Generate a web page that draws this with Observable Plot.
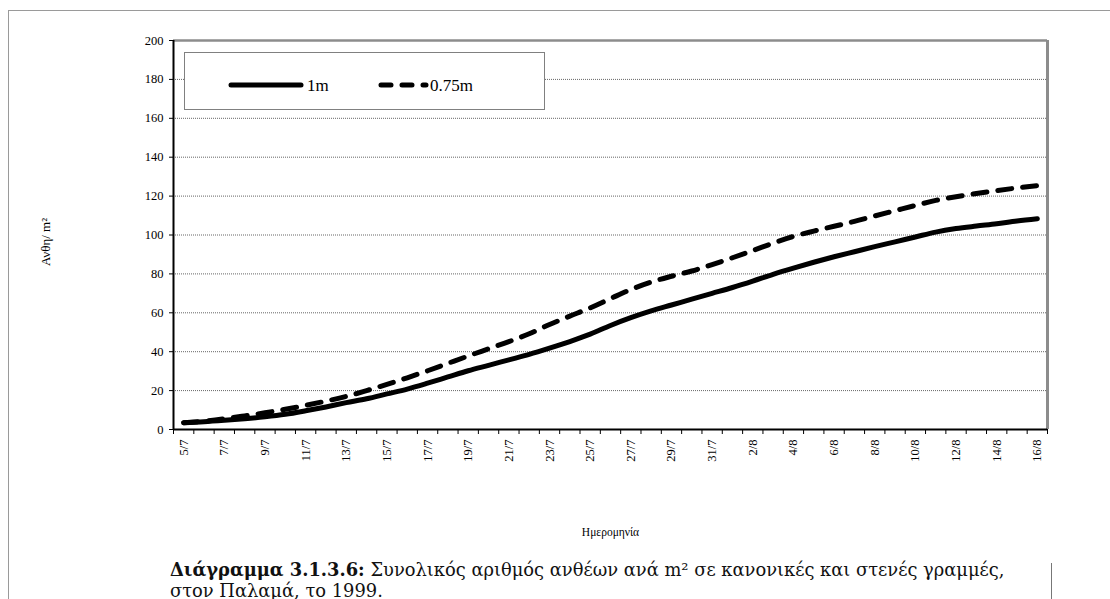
<!DOCTYPE html>
<html>
<head>
<meta charset="utf-8">
<script src="https://cdn.jsdelivr.net/npm/d3@7"></script>
<script src="https://cdn.jsdelivr.net/npm/@observablehq/plot@0.6"></script>
<style>
html, body { margin:0; padding:0; background:#fff; width:1110px; height:599px; overflow:hidden; position:relative; font-family:"Liberation Serif", serif; }
#frame { position:absolute; left:8px; top:10px; width:1300px; height:800px; border:1.5px solid #9a9a9a; box-sizing:border-box; }
#chart { position:absolute; left:0; top:0; }
#chart svg text { font-family:"Liberation Serif", serif !important; }
#legend { position:absolute; left:184px; top:52px; width:361px; height:58px; border:1px solid #808080; box-sizing:border-box; background:#fff; }
#caption { position:absolute; left:170px; top:559px; font-family:"DejaVu Serif", serif; font-size:15px; line-height:21px; color:#111; white-space:nowrap; }
#capline { position:absolute; left:1051px; top:563px; width:1px; height:40px; background:#777; }
</style>
</head>
<body>
<div id="frame"></div>
<div id="chart"></div>
<div id="legend"></div>
<div id="caption"><span id="cap1"><b>Διάγραμμα 3.1.3.6:</b> Συνολικός αριθμός ανθέων ανά m² σε κανονικές και στενές γραμμές,</span><br>στον Παλαμά, το 1999.</div>
<div id="capline"></div>
<script>
// Category labels (days)
const dates = ["5/7","6/7","7/7","8/7","9/7","10/7","11/7","12/7","13/7","14/7","15/7","16/7","17/7","18/7","19/7","20/7","21/7","22/7","23/7","24/7","25/7","26/7","27/7","28/7","29/7","30/7","31/7","1/8","2/8","3/8","4/8","5/8","6/8","7/8","8/8","9/8","10/8","11/8","12/8","13/8","14/8","15/8","16/8"];
// Series: 1m rows
const values1m = [3.5,4.0,4.7,5.5,6.5,7.8,9.6,11.6,13.8,15.8,18.3,20.8,23.8,27.0,30.2,33.0,35.8,38.6,41.8,45.2,49.0,53.5,57.5,61.0,64.0,67.0,70.0,73.0,76.3,79.8,83.0,86.0,88.8,91.4,94.0,96.5,99.0,101.5,103.3,104.6,105.8,107.2,108.3];
// Series: 0.75m rows
const values075m = [3.5,4.3,5.5,7.0,8.6,10.4,12.4,14.6,17.0,20.0,23.2,26.6,30.2,34.0,37.8,41.5,45.2,49.2,54.0,58.3,62.5,67.3,72.0,75.8,78.8,81.5,84.8,88.3,92.0,95.8,99.3,102.0,104.5,107.0,109.8,112.5,115.2,117.8,119.7,121.3,122.8,124.2,125.4];
// Tick values
const yTicks = [0,20,40,60,80,100,120,140,160,180,200];
const seriesNames = ["1m","0.75m"];
const yLabel = "Ανθη/ m²";
const xLabel = "Ημερομηνία";

const idx = d3.range(dates.length);
const boundaries = d3.range(-0.5, dates.length, 1);
const serif = "Liberation Serif, serif";

const plot = Plot.plot({
  width: 1110,
  height: 545,
  marginLeft: 173,
  marginRight: 63,
  marginTop: 40,
  marginBottom: 116,
  style: { fontFamily: serif, fontSize: "12.5px", color: "#000", background: "transparent" },
  x: { type: "linear", domain: [-0.5, dates.length - 0.5] },
  y: { domain: [0, 200] },
  marks: [
    Plot.ruleY(yTicks.filter(d => d > 0 && d < 200), { stroke: "#666", strokeDasharray: "1,1", strokeWidth: 1 }),
    Plot.ruleY([200], { stroke: "#8c8c8c", strokeWidth: 2.5 }),
    Plot.ruleX([dates.length - 0.5], { stroke: "#8c8c8c", strokeWidth: 3 }),
    Plot.axisY({ ticks: yTicks, tickSize: 4, tickPadding: 6, label: null, tickFormat: d => String(d), fontFamily: serif, fontSize: 12.5 }),
    Plot.axisX({ ticks: boundaries, tickSize: 5, tickFormat: () => "", label: null }),
    Plot.axisX({ ticks: idx.filter(i => i % 2 === 0), tickSize: 0, tickPadding: 10, tickRotate: -90, tickFormat: i => dates[i], label: null, fontFamily: serif, fontSize: 12.5 }),
    Plot.ruleX([-0.5], { stroke: "#000", strokeWidth: 2 }),
    Plot.ruleY([0], { stroke: "#000", strokeWidth: 2 }),
    Plot.line(values1m, { x: (d, i) => i, y: d => d, stroke: "#000", strokeWidth: 5, curve: "monotone-x", strokeLinecap: "round" }),
    Plot.line(values075m, { x: (d, i) => i, y: d => d, stroke: "#000", strokeWidth: 5, curve: "monotone-x", strokeLinecap: "round", strokeDasharray: "14,11" }),
    Plot.text([yLabel], { text: d => d, frameAnchor: "left", textAnchor: "middle", dx: -128, dy: 7, rotate: -90, fontSize: 13, fontFamily: serif }),
    Plot.text([xLabel], { text: d => d, frameAnchor: "bottom", dy: 106, fontSize: 11.5, fontFamily: serif })
  ]
});
document.getElementById("chart").appendChild(plot);

// Fit caption first line to the reference width
(function fitCaption() {
  const cap = document.getElementById("caption");
  const line = document.getElementById("cap1");
  const target = 835;
  const w = line.getBoundingClientRect().width;
  if (w > 0) cap.style.fontSize = (15 * target / w).toFixed(2) + "px";
})();

// Legend
const lg = d3.select("#legend").append("svg").attr("width", 359).attr("height", 56);
lg.append("line").attr("x1", 46).attr("x2", 116).attr("y1", 32).attr("y2", 32)
  .attr("stroke", "#000").attr("stroke-width", 5).attr("stroke-linecap", "round");
lg.append("text").attr("x", 122).attr("y", 38).attr("font-size", 17).attr("font-family", serif).text(seriesNames[0]);
lg.append("line").attr("x1", 196).attr("x2", 241).attr("y1", 32).attr("y2", 32)
  .attr("stroke", "#000").attr("stroke-width", 5).attr("stroke-linecap", "round").attr("stroke-dasharray", "10,11");
lg.append("text").attr("x", 245).attr("y", 38).attr("font-size", 17).attr("font-family", serif).text(seriesNames[1]);
</script>
</body>
</html>
